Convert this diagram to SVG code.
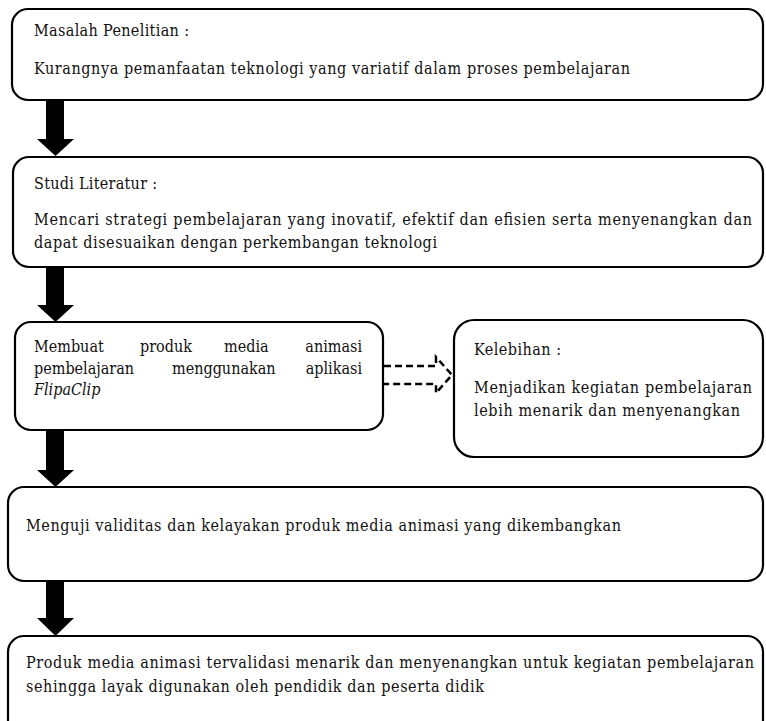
<svg xmlns="http://www.w3.org/2000/svg" width="766" height="721" viewBox="0 0 766 721">
<defs>
<style>
.box{fill:#fff;stroke:#000;stroke-width:2.2}
.t{font-family:"DejaVu Serif","Liberation Serif",serif;font-stretch:condensed;font-size:16px;fill:#111}
.it{font-style:italic}
.blk{fill:#000}
.dash{fill:none;stroke:#000;stroke-width:2.5;stroke-dasharray:7 4}
</style>
</defs>
<rect width="766" height="721" fill="#fff"/>
<g id="connectors">
<path class="blk" d="M46,100 H64 V139 H74 L55.5,156 L37,139 H46 Z"/>
<path class="blk" d="M46,267 H64 V305 H74 L55.5,322 L37,305 H46 Z"/>
<path class="blk" d="M46,430 H64 V470 H74 L55.5,487 L37,470 H46 Z"/>
<path class="blk" d="M46,580 H64 V618 H74 L55.5,636 L37,618 H46 Z"/>
<path class="dash" d="M384,366 H436 V357 L452,375 L436,393 V384 H384"/>
</g>
<g id="n1">
<rect class="box" x="12" y="9" width="751" height="91" rx="16"/>
<text class="t" x="34" y="36" textLength="155">Masalah Penelitian :</text>
<text class="t" x="34" y="74" textLength="596">Kurangnya pemanfaatan teknologi yang variatif dalam proses pembelajaran</text>
</g>
<g id="n2">
<rect class="box" x="13" y="157" width="750" height="110" rx="16"/>
<text class="t" x="34" y="189" textLength="123">Studi Literatur :</text>
<text class="t" x="34" y="225" textLength="718">Mencari strategi pembelajaran yang inovatif, efektif dan efisien serta menyenangkan dan</text>
<text class="t" x="34" y="248" textLength="403">dapat disesuaikan dengan perkembangan teknologi</text>
</g>
<g id="n3">
<rect class="box" x="15" y="322" width="368" height="108" rx="16"/>
<text class="t" x="34" y="352">Membuat</text>
<text class="t" x="140" y="352">produk</text>
<text class="t" x="224" y="352">media</text>
<text class="t" x="362" y="352" text-anchor="end">animasi</text>
<text class="t" x="34" y="374">pembelajaran</text>
<text class="t" x="172" y="374">menggunakan</text>
<text class="t" x="362" y="374" text-anchor="end">aplikasi</text>
<text class="t it" x="34" y="395">FlipaClip</text>
</g>
<g id="n4">
<rect class="box" x="454" y="320" width="309" height="137" rx="20"/>
<text class="t" x="474" y="355" textLength="87">Kelebihan :</text>
<text class="t" x="474" y="393" textLength="278">Menjadikan kegiatan pembelajaran</text>
<text class="t" x="474" y="416" textLength="266">lebih menarik dan menyenangkan</text>
</g>
<g id="n5">
<rect class="box" x="8" y="487" width="755" height="94" rx="16"/>
<text class="t" x="26" y="531" textLength="595">Menguji validitas dan kelayakan produk media animasi yang dikembangkan</text>
</g>
<g id="n6">
<rect class="box" x="8" y="636" width="755" height="110" rx="16"/>
<text class="t" x="26" y="668" textLength="728">Produk media animasi tervalidasi menarik dan menyenangkan untuk kegiatan pembelajaran</text>
<text class="t" x="26" y="692" textLength="458">sehingga layak digunakan oleh pendidik dan peserta didik</text>
</g>
</svg>
